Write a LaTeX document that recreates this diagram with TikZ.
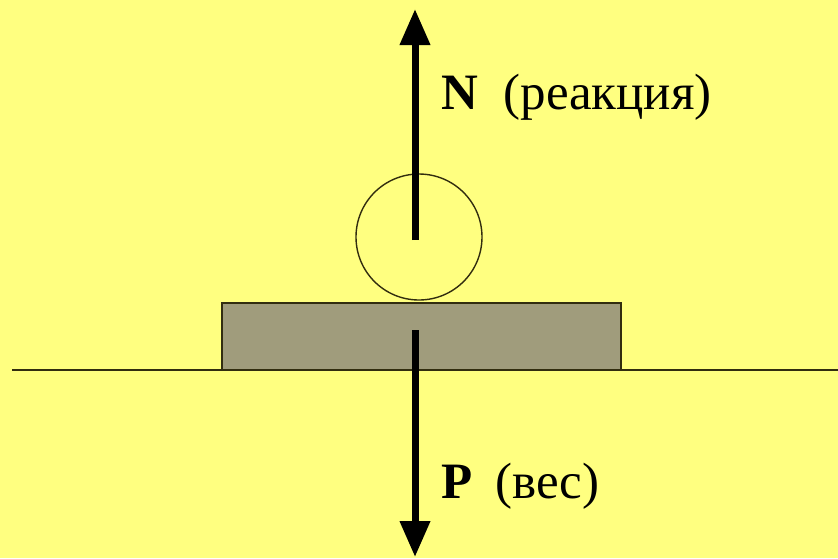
\documentclass[tikz,border=0pt]{standalone}
\usepackage{fontspec}
\setmainfont{Liberation Serif}
\usetikzlibrary{arrows.meta}
\definecolor{bgyellow}{RGB}{255,255,128}
\definecolor{slabgray}{RGB}{160,156,124}
\definecolor{edgedark}{RGB}{50,45,15}
\tikzset{
  force/.style={line width=7pt,-{Triangle[length=36pt,width=29pt]}},
  lbl/.style={anchor=base west,inner sep=0pt,font=\fontsize{51}{60}\selectfont},
}
\begin{document}
\begin{tikzpicture}[x=1pt,y=-1pt]
\fill[bgyellow] (0,0) rectangle (838,558);
\useasboundingbox (0,0) rectangle (838,558);
% ground line
\coordinate (gl) at (12,370);
\coordinate (gr) at (838,370);
\draw[line width=1.8pt,edgedark] (gl) -- (gr);
% slab
\node[draw=edgedark,line width=1.8pt,fill=slabgray,minimum width=399pt,minimum height=67pt,inner sep=0pt] (slab) at (421.5,336.5) {};
% ball
\node[draw=edgedark,line width=1.4pt,circle,minimum size=126pt,inner sep=0pt] (ball) at (419,237) {};
% forces
\coordinate (ns) at (415,240);
\coordinate (ne) at (415,9);
\coordinate (ps) at (415,330);
\coordinate (pe) at (415,557);
\draw[force] (ns) -- (ne);
\draw[force] (ps) -- (pe);
% labels
\node[lbl] (nlab) at (441,109) {\textbf{N}\hspace{0.5em}(реакция)};
\node[lbl] (plab) at (441,498) {\textbf{P}\hspace{0.45em}(вес)};
\end{tikzpicture}
\end{document}
